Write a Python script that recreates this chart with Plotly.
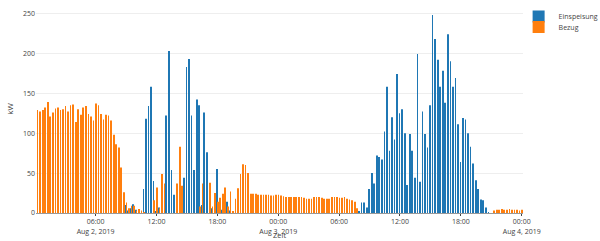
import pandas as pd
import plotly.graph_objects as go

# 15-minute slots, Aug 2 00:15 .. Aug 4 00:00
zeit = pd.date_range("2019-08-02 00:15", periods=192, freq="15min")

bezug = (
    [129,127,129,132,139,121,126,131,132,129,130,134,127,135,136,114,130,123,132,134,124,121,116]
    + [137,135,124,117,123,122,116,98,86,82,57,26,13]
    + [6,9,9,3,5,3]
    + [1,0,0,0]
    + [16,32,6,49,37,0,0,0,0,37,83,34,0,0,0,0,0,0,8,37,0,0,38,8,25,14,19,24,32,8,27,2,18,31,49,61,60,50]
    + [24,24,24,23,23,23,23,23]
    + [22,22,23,23,22,21,20,20,20,20,20,20,20,19,18,18,18,20,20,20,19,18,18,18,20,20,20,19,19,20,18,17,16,14,6]
    + [0]*53
    + [3,4,4,5,4,4,5,4,4,4,3,4]
)

einspeisung = (
    [0]*35
    + [10,3,6,11,4,3,0,30,118,134,158,40,2,7,0,0,122,203,54,23,0,0,0,44,183,193,122,54,142,135,10,126,76,1,6,0,55,8,4,0,14,3,0]
    + [0]*49
    + [2]
    + [13,13,7,30,50,37,72,70,67,102,158,78,120,92,174,125,130,100,35,99,78,44,199,39,127,99,82,135,248,218,192,158,178,138,224,190,158,169,111,64,119,117,100,83,62,41,30,17,16,7,1]
    + [0]*13
)

fig = go.Figure()
fig.add_trace(go.Bar(x=zeit, y=einspeisung, name="Einspeisung", marker_color="#1f77b4",
                     marker_line_width=0, legend="legend2"))
fig.add_trace(go.Bar(x=zeit, y=bezug, name="Bezug", marker_color="#ff7f0e",
                     marker_line_width=0, legend="legend3"))

fig.update_layout(
    template="none",
    width=600, height=241,
    margin=dict(l=36, r=77, t=5, b=28, pad=0, autoexpand=False),
    barmode="group",
    bargap=0.45,
    font=dict(family="Open Sans, verdana, arial, sans-serif", size=7, color="#444"),
    plot_bgcolor="white", paper_bgcolor="white",
    legend2=dict(x=0.991, xanchor="left", y=1.0144, yanchor="top", font=dict(size=7),
                 bgcolor="rgba(0,0,0,0)"),
    legend3=dict(x=0.991, xanchor="left", y=0.964, yanchor="top", font=dict(size=7),
                 bgcolor="rgba(0,0,0,0)"),
    annotations=[dict(text="Zeit", x=0.5, y=-0.107, xref="paper", yref="paper",
                      xanchor="center", yanchor="middle", showarrow=False, font=dict(size=7.5))],
)
fig.update_xaxes(
    dtick=6*3600*1000, tick0="2019-08-02 00:00", ticks="outside", ticklen=2,
    tickcolor="#444", showgrid=False, automargin=False,
)
fig.update_yaxes(
    range=[0, 260.5], dtick=50, gridcolor="#eee", zeroline=True, zerolinecolor="#999",
    title=dict(text="kW", standoff=8, font=dict(size=8)), automargin=False,
)

fig.write_html("out.html", config={"displayModeBar": False})
